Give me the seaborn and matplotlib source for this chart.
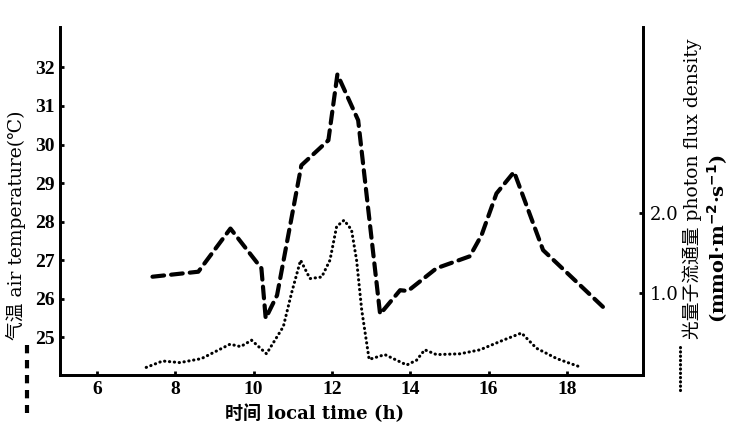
import matplotlib
matplotlib.use("Agg")
import matplotlib.pyplot as plt
import seaborn as sns
import pandas as pd
from matplotlib.lines import Line2D

# Air temperature (left axis), hourly readings
temp_hours = [7.42, 8.59, 9.41, 10.20, 10.31, 10.60, 11.22, 11.91, 12.14, 12.67,
              13.23, 13.74, 13.94, 14.67, 15.52, 15.82, 16.20, 16.65, 17.39, 19.03]
temp_values = [26.57, 26.70, 27.82, 26.79, 25.49, 26.09, 29.46, 30.11, 31.82, 30.63,
               25.60, 26.22, 26.20, 26.79, 27.10, 27.65, 28.73, 29.29, 27.26, 25.68]

# Photon flux density (right axis)
flux_hours = [7.26, 7.68, 8.12, 8.67, 9.40, 9.67, 9.95, 10.33, 10.76, 10.97,
              11.20, 11.44, 11.74, 11.95, 12.12, 12.31, 12.50, 12.63, 12.76, 12.95,
              13.35, 13.91, 14.16, 14.37, 14.67, 15.27, 15.78, 16.37, 16.84, 17.22,
              17.74, 18.08, 18.37]
flux_values = [0.07, 0.15, 0.13, 0.18, 0.36, 0.33, 0.41, 0.24, 0.58, 1.00,
               1.41, 1.18, 1.20, 1.41, 1.83, 1.91, 1.79, 1.41, 0.79, 0.17,
               0.23, 0.10, 0.16, 0.29, 0.23, 0.24, 0.29, 0.41, 0.50, 0.31,
               0.18, 0.12, 0.07]

x_ticks = [6, 8, 10, 12, 14, 16, 18]
temp_ticks = [25, 26, 27, 28, 29, 30, 31, 32]
flux_ticks = [1.0, 2.0]

sns.set_style("ticks")
plt.rcParams["font.family"] = ["Liberation Serif", "Noto Sans CJK SC"]
plt.rcParams.update({
    "axes.linewidth": 2.0,
    "axes.edgecolor": "black",
    "axes.labelcolor": "black",
    "text.color": "black",
    "xtick.color": "black",
    "ytick.color": "black",
})
label_family = ["DejaVu Serif", "Noto Sans CJK SC"]

fig = plt.figure(figsize=(7.31, 4.26), dpi=100)
ax = fig.add_axes([0.0821, 0.1197, 0.7975, 0.817])
ax2 = ax.twinx()

temp_df = pd.DataFrame({"hour": temp_hours, "temp": temp_values})
flux_df = pd.DataFrame({"hour": flux_hours, "flux": flux_values})

sns.lineplot(data=temp_df, x="hour", y="temp", ax=ax, color="black",
             linewidth=3.0, sort=False)
ax.lines[0].set_dashes([2.8, 1.7])
ax.lines[0].set_dash_capstyle("round")

sns.lineplot(data=flux_df, x="hour", y="flux", ax=ax2, color="black",
             linewidth=2.2, sort=False)
ax2.lines[0].set_linestyle((0, (0.1, 1.5)))
ax2.lines[0].set_dash_capstyle("round")

ax.set_xlim(5.06, 19.94)
ax.set_ylim(24.02, 33.05)
ax2.set_ylim(-0.025, 4.325)

ax.set_xticks(x_ticks)
ax.set_xticklabels([str(t) for t in x_ticks], fontsize=14, fontweight="bold")
ax.set_yticks(temp_ticks)
ax.set_yticklabels([str(t) for t in temp_ticks], fontsize=14, fontweight="bold")
ax2.set_yticks(flux_ticks)
ax2.set_yticklabels([f"{t:.1f}" for t in flux_ticks], fontsize=13,
                    family=label_family)

ax.tick_params(axis="both", direction="in", length=3, width=2, pad=4)
ax2.tick_params(axis="y", direction="in", length=3, width=2, pad=5)

for a in (ax, ax2):
    a.spines["top"].set_visible(False)
    a.set_xlabel("")
    a.set_ylabel("")

ax.set_xlabel("时间 local time (h)", fontsize=13, fontweight="bold",
              family=label_family)
ax.xaxis.set_label_coords(0.437, -0.085)

ax.set_ylabel("气温 air temperature(℃)", fontsize=13.5, family=label_family)
ax.yaxis.set_label_coords(-0.058, 0.43)

ax2.set_ylabel("光量子流通量 photon flux density", fontsize=13.5, rotation=90,
               family=label_family)
ax2.yaxis.set_label_coords(1.068, 0.535)

fig.text(0.982, 0.44, "(mmol·m$^{\\mathbf{-2}}$·s$^{\\mathbf{-1}}$)", rotation=90,
         fontsize=14, fontweight="bold", ha="center", va="center",
         family=label_family)

# line-style keys beside the axis titles
fig.add_artist(Line2D([0.037, 0.037], [0.19, 0.03], color="black", linewidth=3.0,
                      dashes=[2.0, 1.6], transform=fig.transFigure))
fig.add_artist(Line2D([0.930, 0.930], [0.185, 0.075], color="black", linewidth=2.2,
                      linestyle=(0, (0.1, 1.3)), dash_capstyle="round",
                      transform=fig.transFigure))

fig.savefig("out.png", dpi=100)
